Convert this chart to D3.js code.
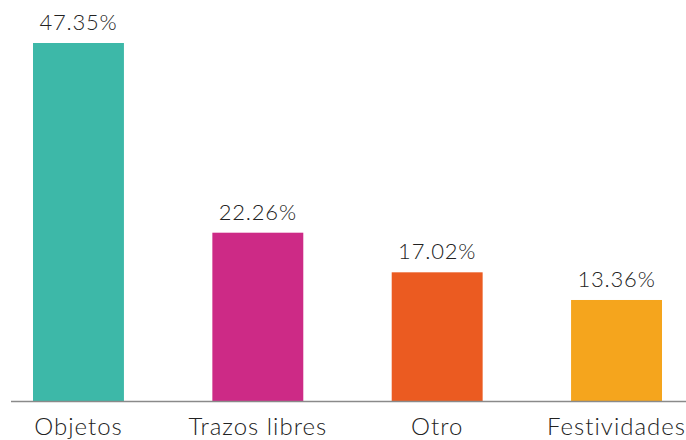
<!DOCTYPE html>
<html>
<head>
<meta charset="utf-8">
<script src="https://cdn.jsdelivr.net/npm/d3@7"></script>
<style>
  body { margin: 0; background: #fff; }
  text { font-family: Lato, "Open Sans", sans-serif; font-weight: 300; fill: #222; }
</style>
</head>
<body>
<script>
// chart data
const categories = ['Objetos', 'Trazos libres', 'Otro', 'Festividades'];
const values = [47.35, 22.26, 17.02, 13.36];
const colors = ['#3db8a8', '#cd2a86', '#eb5b21', '#f5a51d'];

const width = 686, height = 440;
const baseline = 401;

const svg = d3.select('body').append('svg')
  .attr('width', width)
  .attr('height', height);

const x = d3.scaleBand()
  .domain(categories)
  .range([33, 662])
  .paddingInner(0.493)
  .paddingOuter(0);

const y = d3.scaleLinear()
  .domain([0, 47.35])
  .range([baseline, 43]);

// bars
svg.selectAll('rect.bar')
  .data(values)
  .enter().append('rect')
  .attr('class', 'bar')
  .attr('x', (d, i) => x(categories[i]))
  .attr('y', d => y(d))
  .attr('width', x.bandwidth())
  .attr('height', d => baseline - y(d))
  .attr('fill', (d, i) => colors[i]);

// value labels
svg.selectAll('text.val')
  .data(values)
  .enter().append('text')
  .attr('class', 'val')
  .attr('x', (d, i) => x(categories[i]) + x.bandwidth() / 2)
  .attr('y', d => y(d) - 13)
  .attr('text-anchor', 'middle')
  .style('font-size', '22px')
  .style('letter-spacing', '0.8px')
  .text(d => d.toFixed(2) + '%');

// x axis line
svg.append('line')
  .attr('x1', 11).attr('x2', width)
  .attr('y1', baseline + 0.5).attr('y2', baseline + 0.5)
  .attr('stroke', '#8a8a8a')
  .attr('stroke-width', 1.5);

// category labels
svg.selectAll('text.cat')
  .data(categories)
  .enter().append('text')
  .attr('class', 'cat')
  .attr('x', d => x(d) + x.bandwidth() / 2)
  .attr('y', 435)
  .attr('text-anchor', 'middle')
  .style('font-size', '24px')
  .style('letter-spacing', '1px')
  .text(d => d);
</script>
</body>
</html>
